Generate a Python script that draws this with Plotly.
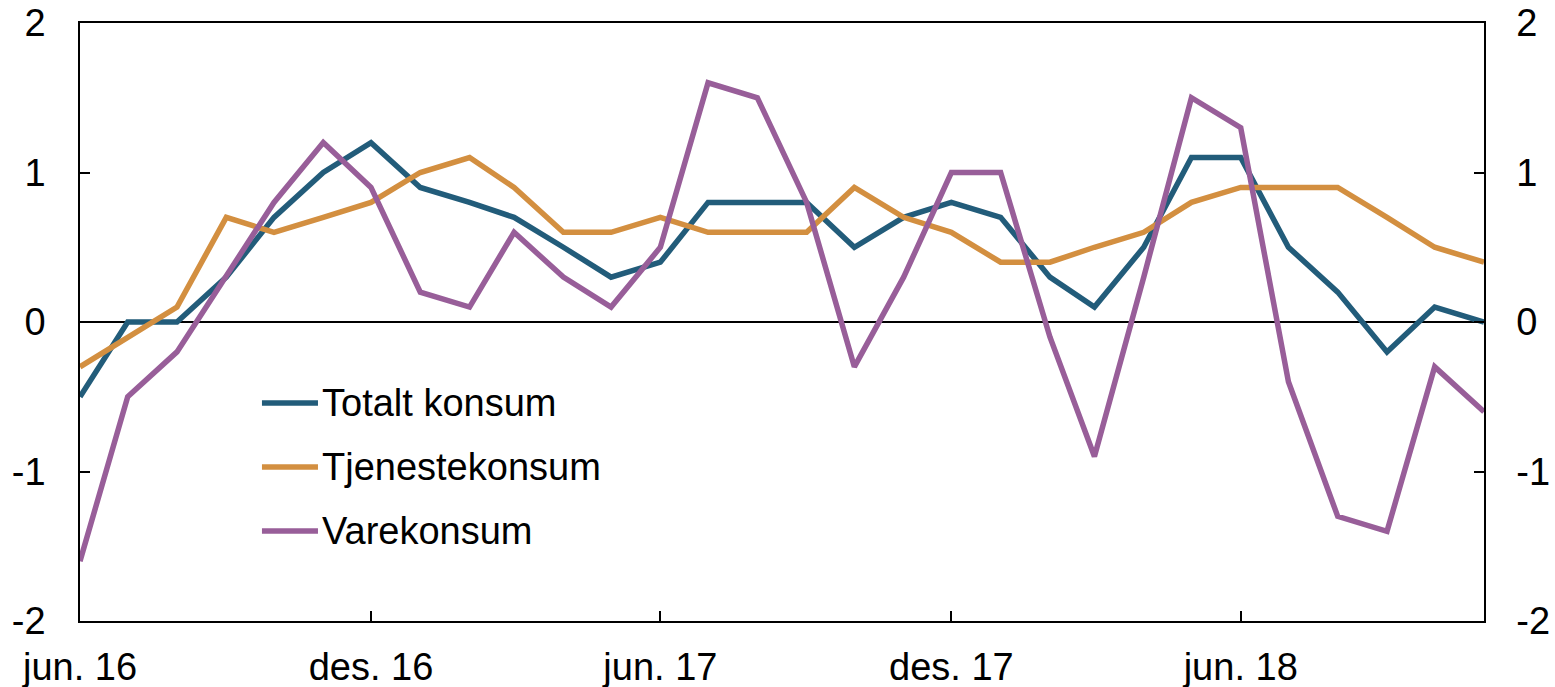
"""Konsum: totalt, tjeneste- og varekonsum, månedlig endring."""

import plotly.graph_objects as go

# Months, jun. 16 to nov. 18
months = [
    "2016-06-01", "2016-07-01", "2016-08-01", "2016-09-01", "2016-10-01", "2016-11-01",
    "2016-12-01", "2017-01-01", "2017-02-01", "2017-03-01", "2017-04-01", "2017-05-01",
    "2017-06-01", "2017-07-01", "2017-08-01", "2017-09-01", "2017-10-01", "2017-11-01",
    "2017-12-01", "2018-01-01", "2018-02-01", "2018-03-01", "2018-04-01", "2018-05-01",
    "2018-06-01", "2018-07-01", "2018-08-01", "2018-09-01", "2018-10-01", "2018-11-01",
]

totalt = [-0.5, 0.0, 0.0, 0.3, 0.7, 1.0, 1.2, 0.9, 0.8, 0.7, 0.5, 0.3,
          0.4, 0.8, 0.8, 0.8, 0.5, 0.7, 0.8, 0.7, 0.3, 0.1, 0.5, 1.1,
          1.1, 0.5, 0.2, -0.2, 0.1, 0.0]
tjeneste = [-0.3, -0.1, 0.1, 0.7, 0.6, 0.7, 0.8, 1.0, 1.1, 0.9, 0.6, 0.6,
            0.7, 0.6, 0.6, 0.6, 0.9, 0.7, 0.6, 0.4, 0.4, 0.5, 0.6, 0.8,
            0.9, 0.9, 0.9, 0.7, 0.5, 0.4]
vare = [-1.6, -0.5, -0.2, 0.3, 0.8, 1.2, 0.9, 0.2, 0.1, 0.6, 0.3, 0.1,
        0.5, 1.6, 1.5, 0.8, -0.3, 0.3, 1.0, 1.0, -0.1, -0.9, 0.3, 1.5,
        1.3, -0.4, -1.3, -1.4, -0.3, -0.6]

series_names = ["Totalt konsum", "Tjenestekonsum", "Varekonsum"]
series_values = [totalt, tjeneste, vare]
colors = ["#225C7A", "#D38F40", "#985E99"]
# the purple series sits on the right-hand axis (same scale) so that axis is drawn
series_axes = ["y", "y", "y2"]

tick_dates = ["2016-06-01", "2016-12-01", "2017-06-01", "2017-12-01", "2018-06-01"]
tick_labels = ["jun. 16", "des. 16", "jun. 17", "des. 17", "jun. 18"]
y_ticks = [-2, -1, 0, 1, 2]
y_tick_labels = ["-2", "-1", "0", "1", "2"]

FONT = dict(family="Arial, Liberation Sans, sans-serif", size=38, color="black")
LINE_W = 5.5

fig = go.Figure()

for name, vals, color, yax in zip(series_names, series_values, colors, series_axes):
    fig.add_trace(go.Scatter(
        x=months,
        y=vals,
        name=name,
        mode="lines",
        line=dict(color=color, width=LINE_W),
        yaxis=yax,
        showlegend=False,
    ))

# Hand-made legend so the key lines are as long as in the original
legend_x0, legend_x1, text_x = 0.1296, 0.1695, 0.171
legend_rows = [0.3645, 0.2575, 0.1505]
for name, color, yrow in zip(series_names, colors, legend_rows):
    fig.add_shape(
        type="line", xref="paper", yref="paper",
        x0=legend_x0, x1=legend_x1, y0=yrow, y1=yrow,
        line=dict(color=color, width=LINE_W),
    )
    fig.add_annotation(
        text=name, xref="paper", yref="paper",
        x=text_x, y=yrow, xanchor="left", yanchor="middle",
        showarrow=False, font=FONT,
    )

axis_common = dict(
    showline=True, linecolor="black", linewidth=1.5,
    ticks="inside", ticklen=10, tickwidth=1.5, tickcolor="black",
    showgrid=False, tickfont=FONT, automargin=False,
)

fig.update_layout(
    width=1555,
    height=687,
    margin=dict(l=80, r=71, t=23, b=66),
    plot_bgcolor="white",
    paper_bgcolor="white",
    font=FONT,
    xaxis=dict(
        **axis_common,
        type="date",
        range=[months[0], months[-1]],
        tickvals=tick_dates,
        ticktext=tick_labels,
        mirror=True,
        ticklabelstandoff=12,
    ),
    yaxis=dict(
        **axis_common,
        range=[-2, 2],
        tickvals=y_ticks,
        ticktext=y_tick_labels,
        zeroline=True, zerolinecolor="black", zerolinewidth=1.5,
        ticklabelstandoff=25,
    ),
    yaxis2=dict(
        **axis_common,
        range=[-2, 2],
        tickvals=y_ticks,
        ticktext=y_tick_labels,
        overlaying="y",
        side="right",
        zeroline=False,
        ticklabelstandoff=23,
    ),
)

# drop the browser's default body margin so the figure sits at the page corner
fig.write_html(
    "out.html",
    config={"displayModeBar": False},
    post_script="document.body.style.margin = '0';",
)
